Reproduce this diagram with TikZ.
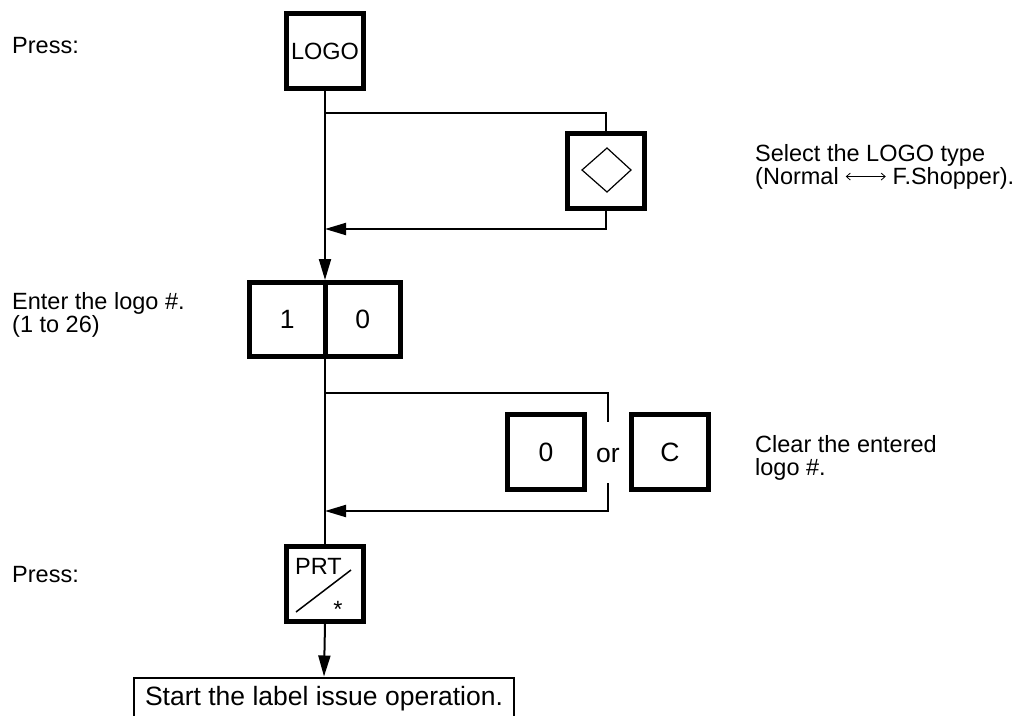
\documentclass[tikz,border=0pt]{standalone}
\usepackage{fontspec}
\setmainfont{Liberation Sans}
\usetikzlibrary{arrows.meta}
\begin{document}
\begin{tikzpicture}[x=1pt,y=-1pt,
  key/.style={draw, line width=5pt, minimum width=77pt, minimum height=75pt, inner sep=0pt, font=\fontsize{26.5}{26}\selectfont},
  conn/.style={line width=2pt, line join=miter},
  arr/.style={conn, -{Triangle[length=21pt,width=12pt]}},
  lbl/.style={font=\fontsize{23.5}{23}\selectfont, align=left, inner sep=0pt}
]
\useasboundingbox (0,0) rectangle (1036,715);
\clip (0,0) rectangle (1036,715);

% keys
\node[key, font=\fontsize{23.5}{23}\selectfont] (logo) at (325,51) {LOGO};
\node[key] (sel) at (606,171) {};
\draw[line width=1.2pt] (582,170) -- (607,148) -- (631,170) -- (607,192) -- cycle;
\node[key, minimum width=75.5pt, minimum height=74pt] (k1) at (287.25,319.5) {1};
\node[key, minimum width=75.5pt, minimum height=74pt] (k0) at (362.75,319.5) {0};
\node[key] (z) at (546,452) {0};
\node[lbl, anchor=base, font=\fontsize{26.5}{26}\selectfont] (or) at (608,462) {or};
\node[key] (c) at (670,452) {C};
\node[key] (prt) at (325,584) {};
\node[lbl, anchor=base west] (prtt) at (295,574) {PRT};
\draw[line width=1.5pt] (296,612) -- (351,570);
\node[lbl, anchor=base] (ast) at (338,617) {*};

% start box
\node[draw, line width=2pt, anchor=base, minimum width=380pt, text height=18pt, text depth=30pt, inner ysep=9.5pt,
  font=\fontsize{26.5}{26.5}\selectfont] (start) at (324,705) {Start the label issue operation.};

% connectors
\coordinate (b1) at (325,113);
\coordinate (r1) at (325,229);
\coordinate (b2) at (325,393);
\coordinate (g1) at (608,422);
\coordinate (g2) at (608,483);
\coordinate (r2) at (325,511);
\draw[arr] (logo.south) -- (logo.south |- k1.north);
\draw[conn] (b1) -| (sel.north);
\draw[arr] (sel.south) |- (r1);
\draw[conn] (logo.south |- k1.south) -- (prt.north);
\draw[conn] (b2) -| (g1);
\draw[arr] (g2) |- (r2);
\draw[arr] (prt.south) -- (start.north);

% labels (base anchor = last line)
\node[lbl, anchor=base west] (p1) at (12,53) {Press:};
\node[lbl, anchor=base west] (p2) at (755,184) {Select the LOGO type\\(Normal \tikz[baseline=-0.6ex]\draw[line width=0.8pt,{Straight Barb[length=4pt,width=7pt]}-{Straight Barb[length=4pt,width=7pt]}] (0,0) -- (40pt,0); F.Shopper).};
\node[lbl, anchor=base west] (p3) at (12,332) {Enter the logo \#.\\(1 to 26)};
\node[lbl, anchor=base west] (p4) at (755,475) {Clear the entered\\logo \#.};
\node[lbl, anchor=base west] (p5) at (12,582) {Press:};
\end{tikzpicture}
\end{document}
